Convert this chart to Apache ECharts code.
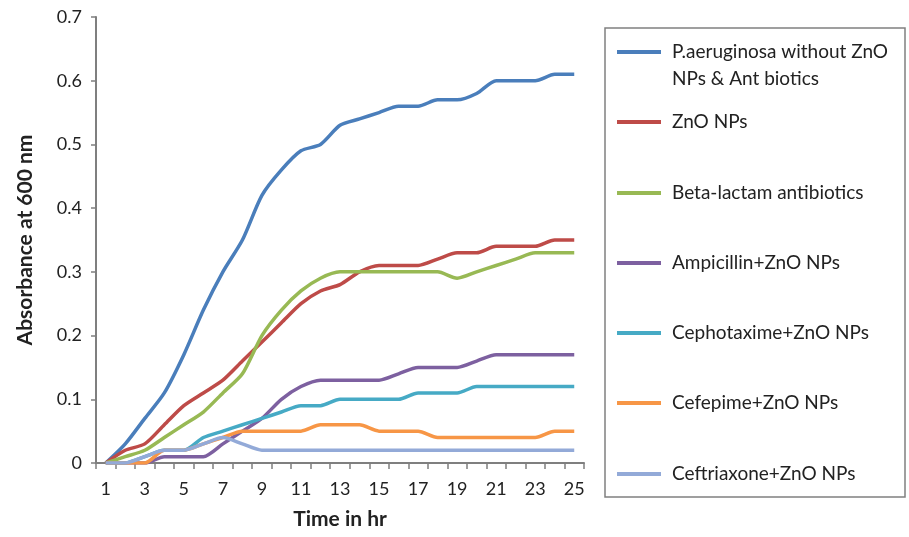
<!DOCTYPE html>
<html>
<head>
<meta charset="utf-8">
<script src="https://cdn.jsdelivr.net/npm/echarts@6/dist/echarts.min.js"></script>
<style>
  html, body { margin: 0; padding: 0; background: #fff; }
  #chart { width: 909px; height: 537px; }
</style>
</head>
<body>
<div id="chart"></div>
<script>
// Time points (hours)
const hours = ['1','2','3','4','5','6','7','8','9','10','11','12','13','14','15','16','17','18','19','20','21','22','23','24','25'];

// Absorbance at 600 nm for each treatment
const controlNoTreatment = [0, 0.03, 0.07, 0.11, 0.17, 0.24, 0.30, 0.35, 0.42, 0.46, 0.49, 0.50, 0.53, 0.54, 0.55, 0.56, 0.56, 0.57, 0.57, 0.58, 0.60, 0.60, 0.60, 0.61, 0.61];
const znoNPs            = [0, 0.02, 0.03, 0.06, 0.09, 0.11, 0.13, 0.16, 0.19, 0.22, 0.25, 0.27, 0.28, 0.30, 0.31, 0.31, 0.31, 0.32, 0.33, 0.33, 0.34, 0.34, 0.34, 0.35, 0.35];
const betaLactam        = [0, 0.01, 0.02, 0.04, 0.06, 0.08, 0.11, 0.14, 0.20, 0.24, 0.27, 0.29, 0.30, 0.30, 0.30, 0.30, 0.30, 0.30, 0.29, 0.30, 0.31, 0.32, 0.33, 0.33, 0.33];
const ampicillinZnO     = [0, 0, 0, 0.01, 0.01, 0.01, 0.03, 0.05, 0.07, 0.10, 0.12, 0.13, 0.13, 0.13, 0.13, 0.14, 0.15, 0.15, 0.15, 0.16, 0.17, 0.17, 0.17, 0.17, 0.17];
const cephotaximeZnO    = [0, 0, 0.01, 0.02, 0.02, 0.04, 0.05, 0.06, 0.07, 0.08, 0.09, 0.09, 0.10, 0.10, 0.10, 0.10, 0.11, 0.11, 0.11, 0.12, 0.12, 0.12, 0.12, 0.12, 0.12];
const cefepimeZnO       = [0, 0, 0, 0.02, 0.02, 0.03, 0.04, 0.05, 0.05, 0.05, 0.05, 0.06, 0.06, 0.06, 0.05, 0.05, 0.05, 0.04, 0.04, 0.04, 0.04, 0.04, 0.04, 0.05, 0.05];
const ceftriaxoneZnO    = [0, 0, 0.01, 0.02, 0.02, 0.03, 0.04, 0.03, 0.02, 0.02, 0.02, 0.02, 0.02, 0.02, 0.02, 0.02, 0.02, 0.02, 0.02, 0.02, 0.02, 0.02, 0.02, 0.02, 0.02];

const seriesNames = [
  'P.aeruginosa without ZnO\nNPs & Ant biotics',
  'ZnO NPs',
  'Beta-lactam antibiotics',
  'Ampicillin+ZnO NPs',
  'Cephotaxime+ZnO NPs',
  'Cefepime+ZnO NPs',
  'Ceftriaxone+ZnO NPs'
];
const seriesData = [controlNoTreatment, znoNPs, betaLactam, ampicillinZnO, cephotaximeZnO, cefepimeZnO, ceftriaxoneZnO];
const seriesColors = ['#4A7EBB', '#BE4B48', '#98B954', '#7D60A0', '#46AAC5', '#F79646', '#93AAD8'];

const FONT = 'Lato, "Liberation Sans", sans-serif';
const TEXT_COLOR = '#222';

// Vertical centres of the legend keys (one legend component per entry)
const legendCentres = [52, 122, 193, 263, 333, 403, 474];

const legends = seriesNames.map((name, i) => {
  const twoLine = name.indexOf('\n') >= 0;
  const lh = twoLine ? 27 : 22;
  // A two-line label gets an empty leading line so its first line sits level with the key
  const lines = twoLine ? 3 : 1;
  return {
    data: [name],
    orient: 'vertical',
    left: 617,
    top: legendCentres[i] - (lh * lines) / 2,
    icon: 'rect',
    itemWidth: 44,
    itemHeight: 4,
    itemGap: 0,
    selectedMode: false,
    padding: 0,
    formatter: n => (twoLine ? ' \n' + n : n),
    textStyle: {
      fontFamily: FONT,
      fontSize: 19,
      color: TEXT_COLOR,
      lineHeight: lh,
      padding: [0, 0, 0, 6]
    }
  };
});

const chart = echarts.init(document.getElementById('chart'), null, { renderer: 'canvas' });

chart.setOption({
  animation: false,
  backgroundColor: '#fff',
  grid: { left: 96, right: 325, top: 17, bottom: 74, containLabel: false },
  legend: legends,
  graphic: [{
    type: 'rect',
    shape: { x: 605, y: 28, width: 300, height: 469 },
    style: { fill: 'none', stroke: '#808080', lineWidth: 1.5 },
    z: -1
  }],
  xAxis: {
    type: 'category',
    data: hours,
    boundaryGap: true,
    name: 'Time in hr',
    nameLocation: 'middle',
    nameGap: 46,
    nameTextStyle: { fontFamily: FONT, fontSize: 21, fontWeight: 'bold', color: TEXT_COLOR },
    axisLine: { show: true, lineStyle: { color: '#7f7f7f', width: 2 } },
    axisTick: { show: true, interval: 0, length: 6, alignWithLabel: false, lineStyle: { color: '#7f7f7f', width: 1.5 } },
    axisLabel: { interval: 1, margin: 17, fontFamily: FONT, fontSize: 18, color: TEXT_COLOR },
    splitLine: { show: false }
  },
  yAxis: {
    type: 'value',
    min: 0,
    max: 0.7,
    interval: 0.1,
    name: 'Absorbance at 600 nm',
    nameLocation: 'middle',
    nameRotate: 90,
    nameGap: 60,
    nameTextStyle: { fontFamily: FONT, fontSize: 21, fontWeight: 'bold', color: TEXT_COLOR },
    axisLine: { show: true, lineStyle: { color: '#7f7f7f', width: 2 } },
    axisTick: { show: true, length: 5, lineStyle: { color: '#7f7f7f', width: 1.5 } },
    axisLabel: {
      margin: 14,
      fontFamily: FONT,
      fontSize: 18,
      color: TEXT_COLOR,
      formatter: v => (v === 0 ? '0' : v.toFixed(1))
    },
    splitLine: { show: false }
  },
  series: seriesNames.map((name, i) => ({
    name: name,
    type: 'line',
    data: seriesData[i],
    smooth: 0.25,
    symbol: 'none',
    color: seriesColors[i],
    lineStyle: { width: 3.5, color: seriesColors[i] }
  }))
});
</script>
</body>
</html>
